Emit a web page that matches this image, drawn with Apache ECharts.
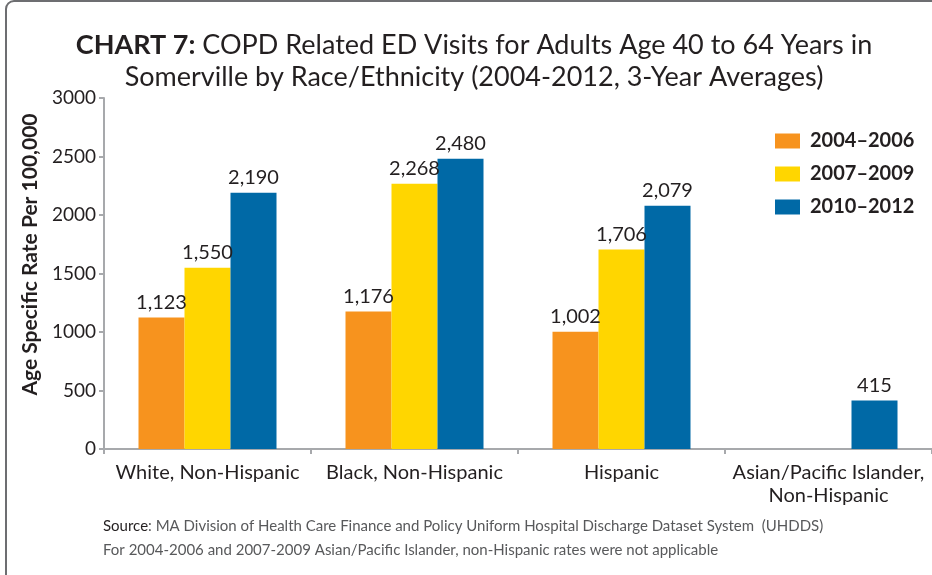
<!DOCTYPE html>
<html>
<head>
<meta charset="utf-8">
<script src="https://cdn.jsdelivr.net/npm/echarts@6/dist/echarts.min.js"></script>
<style>
html,body{margin:0;padding:0;background:#fff;}
#c{width:932px;height:575px;}
</style>
</head>
<body>
<div id="c"></div>
<script>
const categories = ['White, Non-Hispanic', 'Black, Non-Hispanic', 'Hispanic', 'Asian/Pacific Islander,\nNon-Hispanic'];
const seriesNames = ['2004–2006', '2007–2009', '2010–2012'];
const s2004 = [1123, 1176, 1002, null];
const s2007 = [1550, 2268, 1706, null];
const s2010 = [2190, 2480, 2079, 415];
const yTicks = [0, 500, 1000, 1500, 2000, 2500, 3000];

const FONT = 'Lato';
const colors = ['#f7931e', '#ffd600', '#0069a6'];
const txt = '#231f20';

// Asian/PI category is laid out differently in the original (no 2004–2006 / 2007–2009 bars)
const asianIdx = 3;
const s2010Main = s2010.map((v, i) => i === asianIdx ? null : v);
const s2010Asian = s2010.map((v, i) => i === asianIdx ? v : null);

const labelCfg = {
  show: true, position: 'top', distance: 5,
  color: txt, fontSize: 20, fontFamily: FONT,
  formatter: p => p.value == null ? '' : Number(p.value).toLocaleString('en-US')
};

const chart = echarts.init(document.getElementById('c'), null, {renderer: 'canvas'});
chart.setOption({
  animation: false,
  textStyle: {fontFamily: FONT},
  graphic: [{
    type: 'rect', shape: {x: 6, y: 1, width: 1000, height: 1000, r: 8},
    style: {fill: 'none', stroke: '#6d6e71', lineWidth: 2}, z: -1
  }],
  title: [{
    text: '{b|CHART 7:} COPD Related ED Visits for Adults Age 40 to 64 Years in\nSomerville by Race/Ethnicity (2004-2012, 3-Year Averages)',
    left: 474, top: 29, textAlign: 'center', padding: 0,
    textStyle: {
      fontFamily: FONT, fontSize: 27, fontWeight: 'normal', color: txt, lineHeight: 32,
      rich: {b: {fontFamily: FONT, fontSize: 27, fontWeight: 'bold', color: txt, lineHeight: 32}}
    }
  }, {
    text: '{s|Source}: MA Division of Health Care Finance and Policy Uniform Hospital Discharge Dataset System  (UHDDS)\nFor 2004-2006 and 2007-2009 Asian/Pacific Islander, non-Hispanic rates were not applicable',
    left: 103, top: 514, padding: 0,
    textStyle: {
      fontFamily: FONT, fontSize: 15, fontWeight: 'normal', color: '#58595b', lineHeight: 24,
      rich: {s: {fontFamily: FONT, fontSize: 15, color: txt, lineHeight: 24}}
    }
  }],
  legend: {
    orient: 'vertical', left: 775, top: 131, padding: 0,
    itemWidth: 25, itemHeight: 15, itemGap: 13,
    icon: 'rect',
    data: seriesNames,
    textStyle: {fontFamily: FONT, fontSize: 20, fontWeight: 'bold', color: txt, lineHeight: 18, padding: [0, 0, 0, 5]}
  },
  grid: {left: 104, right: -5, top: 98, bottom: 126, containLabel: false},
  xAxis: [{
    type: 'category', data: categories,
    axisLine: {lineStyle: {color: '#a7a9ac', width: 2}},
    axisTick: {show: true, length: 5, lineStyle: {color: '#a7a9ac', width: 2}},
    axisLabel: {color: txt, fontSize: 20, fontFamily: FONT, margin: 12, lineHeight: 23, interval: 0}
  }, {
    type: 'category', data: categories, show: false
  }],
  yAxis: {
    type: 'value', min: yTicks[0], max: yTicks[yTicks.length - 1], interval: 500,
    name: 'Age Specific Rate Per 100,000', nameLocation: 'middle', nameGap: 41,
    nameTextStyle: {fontFamily: FONT, fontSize: 21, fontWeight: 'bold', color: txt, padding: [0, 0, 0, 38]},
    axisLine: {show: true, lineStyle: {color: '#a7a9ac', width: 2}},
    axisTick: {show: true, length: 5, lineStyle: {color: '#a7a9ac', width: 2}},
    axisLabel: {color: txt, fontSize: 19, fontFamily: FONT, margin: 8, formatter: v => String(v)},
    splitLine: {show: false}
  },
  series: [
    {name: seriesNames[0], type: 'bar', data: s2004, barWidth: 46, barGap: '0%', itemStyle: {color: colors[0]}, label: labelCfg},
    {name: seriesNames[1], type: 'bar', data: s2007, barWidth: 46, barGap: '0%', itemStyle: {color: colors[1]}, label: labelCfg},
    {name: seriesNames[2], type: 'bar', data: s2010Main, barWidth: 46, barGap: '0%', itemStyle: {color: colors[2]}, label: labelCfg},
    {name: '_gap', type: 'bar', xAxisIndex: 1, data: [null, null, null, null], barWidth: 46, barGap: '100%'},
    {name: seriesNames[2], type: 'bar', xAxisIndex: 1, data: s2010Asian, barWidth: 46, barGap: '100%', itemStyle: {color: colors[2]}, label: labelCfg}
  ]
});
</script>
</body>
</html>
